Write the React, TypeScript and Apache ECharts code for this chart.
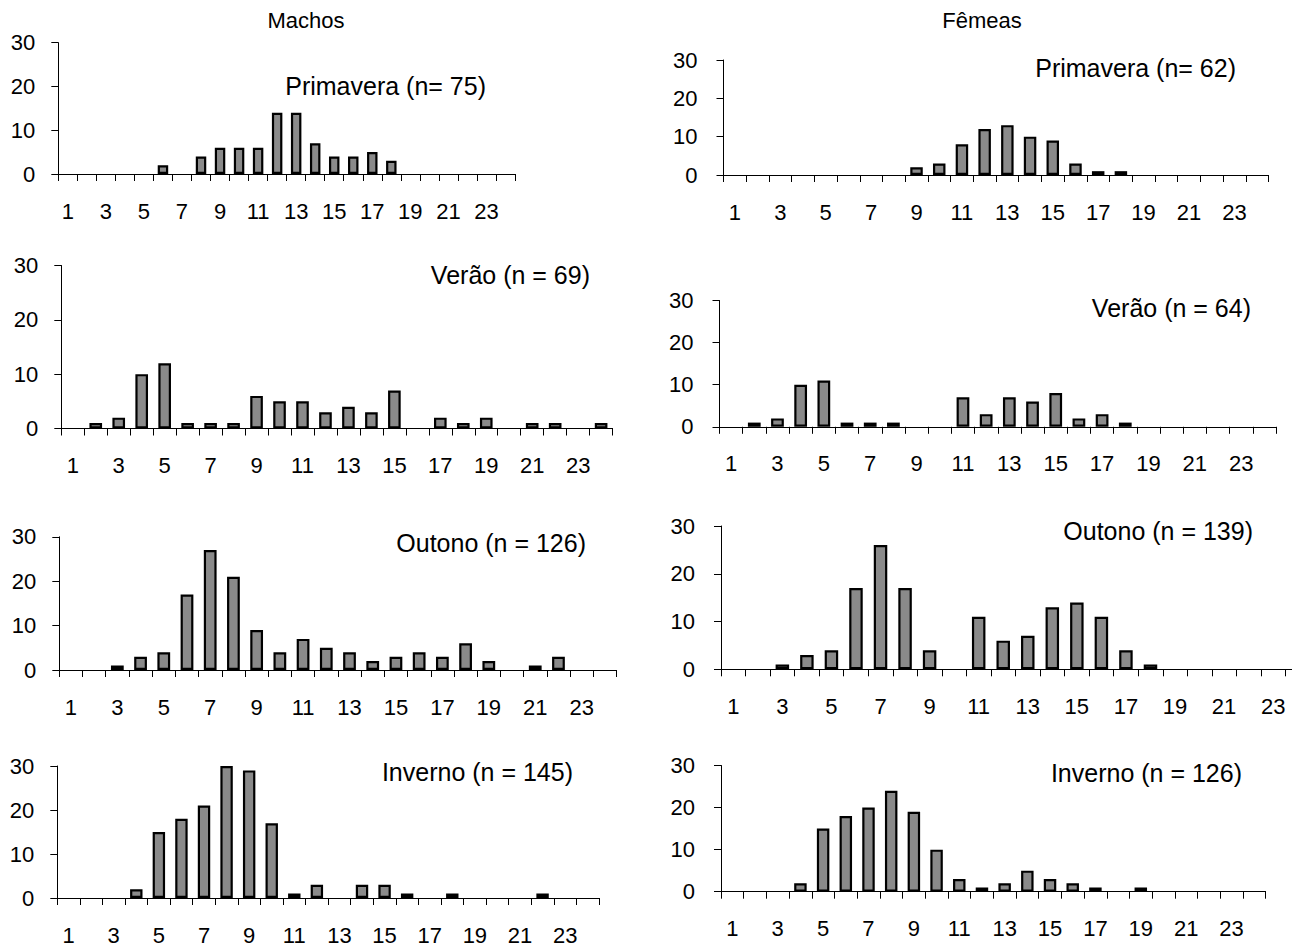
import React, { useEffect, useRef } from "react";
import * as echarts from "echarts";

const categories = [
  "1", "2", "3", "4", "5", "6", "7", "8", "9", "10", "11", "12",
  "13", "14", "15", "16", "17", "18", "19", "20", "21", "22", "23", "24",
];
const yTickValues = [0, 10, 20, 30];

const machoPrimavera = [0, 0, 0, 0, 0, 2, 0, 4, 6, 6, 6, 14, 14, 7, 4, 4, 5, 3, 0, 0, 0, 0, 0, 0];
const femeaPrimavera = [0, 0, 0, 0, 0, 0, 0, 0, 2, 3, 8, 12, 13, 10, 9, 3, 1, 1, 0, 0, 0, 0, 0, 0];
const machoVerao = [0, 1, 2, 10, 12, 1, 1, 1, 6, 5, 5, 3, 4, 3, 7, 0, 2, 1, 2, 0, 1, 1, 0, 1];
const femeaVerao = [0, 1, 2, 10, 11, 1, 1, 1, 0, 0, 7, 3, 7, 6, 8, 2, 3, 1, 0, 0, 0, 0, 0, 0];
const machoOutono = [0, 0, 1, 3, 4, 17, 27, 21, 9, 4, 7, 5, 4, 2, 3, 4, 3, 6, 2, 0, 1, 3, 0, 0];
const femeaOutono = [0, 0, 1, 3, 4, 17, 26, 17, 4, 0, 11, 6, 7, 13, 14, 11, 4, 1, 0, 0, 0, 0, 0, 0];
const machoInverno = [0, 0, 0, 2, 15, 18, 21, 30, 29, 17, 1, 3, 0, 3, 3, 1, 0, 1, 0, 0, 0, 1, 0, 0];
const femeaInverno = [0, 0, 0, 2, 15, 18, 20, 24, 19, 10, 3, 1, 2, 5, 3, 2, 1, 0, 1, 0, 0, 0, 0, 0];

const columnTitles = ["Machos", "Fêmeas"];
const panelTitles = [
  "Primavera (n= 75)", "Primavera (n= 62)",
  "Verão (n = 69)", "Verão (n = 64)",
  "Outono (n = 126)", "Outono (n = 139)",
  "Inverno (n = 145)", "Inverno (n = 126)",
];
const panelData = [
  machoPrimavera, femeaPrimavera,
  machoVerao, femeaVerao,
  machoOutono, femeaOutono,
  machoInverno, femeaInverno,
];

// layout: [left, right, top(30), bottom(0), titleRightX, titleY, yLabelMargin]
const layout = [
  [58.3, 515, 42.7, 174, 486, 86, 23],
  [723.5, 1268.5, 60, 175, 1236, 68, 26],
  [61.3, 612.6, 265.5, 428.5, 590, 275, 23],
  [719.5, 1276, 300.5, 426.8, 1251, 308, 26],
  [59.3, 616.5, 536.8, 670, 586, 543, 23],
  [721, 1310, 526, 669.3, 1253, 531, 26],
  [57.3, 599, 766, 898, 573, 772, 23],
  [721, 1265.6, 765.5, 891.7, 1242, 773, 26],
];
const columnTitlePos = [[306, 20], [982, 20]];

const FONT = '"Liberation Sans", Arial, sans-serif';

export default function App() {
  const ref = useRef<HTMLDivElement>(null);
  useEffect(() => {
    if (!ref.current) return;
    const chart = echarts.init(ref.current, null, { renderer: "svg" });
    const grid: any[] = [];
    const xAxis: any[] = [];
    const yAxis: any[] = [];
    const series: any[] = [];
    const graphic: any[] = [];
    layout.forEach((l, i) => {
      const [left, right, top, bottom, tx, ty, ym] = l;
      grid.push({
        left, top, width: right - left, height: bottom - top,
        containLabel: false, outerBoundsMode: "none",
      });
      xAxis.push({
        type: "category", gridIndex: i, data: categories, boundaryGap: true,
        axisLine: { show: true, lineStyle: { color: "#000", width: 1 } },
        axisTick: { show: true, interval: 0, length: 7, lineStyle: { color: "#000", width: 1 } },
        axisLabel: { interval: 1, margin: 26, color: "#000", fontSize: 22, fontFamily: FONT },
        splitLine: { show: false },
      });
      yAxis.push({
        type: "value", gridIndex: i, min: yTickValues[0], max: yTickValues[yTickValues.length - 1], interval: 10,
        axisLine: { show: true, lineStyle: { color: "#000", width: 1 } },
        axisTick: { show: true, length: 7, lineStyle: { color: "#000", width: 1 } },
        axisLabel: { margin: ym, color: "#000", fontSize: 22, fontFamily: FONT },
        splitLine: { show: false },
      });
      series.push({
        type: "bar", xAxisIndex: i, yAxisIndex: i,
        data: panelData[i].map((v) => (v === 0 ? null : v)),
        barWidth: "55%",
        itemStyle: { color: "#8a8a8a", borderColor: "#000", borderWidth: 2.2 },
      });
      graphic.push({
        type: "text", x: tx, y: ty,
        style: {
          text: panelTitles[i], textAlign: "right", textVerticalAlign: "middle",
          font: `25px ${FONT}`, fill: "#000",
        },
      });
    });
    columnTitles.forEach((t, i) => {
      graphic.push({
        type: "text", x: columnTitlePos[i][0], y: columnTitlePos[i][1],
        style: {
          text: t, textAlign: "center", textVerticalAlign: "middle",
          font: `22px ${FONT}`, fill: "#000",
        },
      });
    });
    chart.setOption({
      animation: false,
      backgroundColor: "#fff",
      grid, xAxis, yAxis, series, graphic,
    });
    return () => chart.dispose();
  }, []);
  return (
    <div
      ref={ref}
      style={{ position: "fixed", left: 0, top: 0, width: 1292, height: 946 }}
    />
  );
}
